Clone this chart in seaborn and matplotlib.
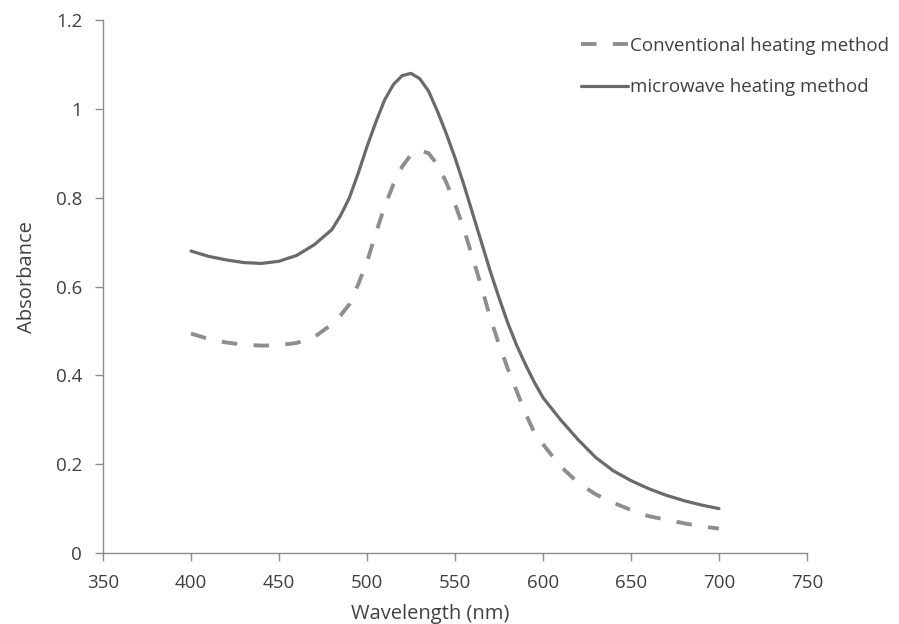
import matplotlib
matplotlib.use("Agg")
import matplotlib.pyplot as plt
import seaborn as sns
import pandas as pd

# wavelength (nm) and absorbance
wavelength = [400, 410, 420, 430, 440, 450, 460, 470, 480, 485, 490, 495, 500, 505,
              510, 515, 520, 525, 530, 535, 540, 545, 550, 555, 560, 565, 570, 575,
              580, 585, 590, 595, 600, 610, 620, 630, 640, 650, 660, 670, 680, 690, 700]
conventional = [0.494, 0.482, 0.474, 0.469, 0.467, 0.468, 0.473, 0.486, 0.515, 0.535,
                0.560, 0.605, 0.655, 0.720, 0.780, 0.830, 0.870, 0.897, 0.907, 0.900,
                0.875, 0.835, 0.786, 0.730, 0.665, 0.600, 0.530, 0.470, 0.415, 0.365,
                0.315, 0.272, 0.245, 0.195, 0.158, 0.132, 0.113, 0.097, 0.083, 0.075,
                0.067, 0.060, 0.055]
microwave = [0.680, 0.668, 0.660, 0.654, 0.652, 0.657, 0.670, 0.694, 0.728, 0.760,
             0.800, 0.855, 0.915, 0.970, 1.020, 1.055, 1.075, 1.080, 1.068, 1.040,
             0.995, 0.945, 0.890, 0.830, 0.765, 0.700, 0.635, 0.575, 0.518, 0.468,
             0.425, 0.385, 0.350, 0.300, 0.255, 0.215, 0.185, 0.163, 0.145, 0.130,
             0.118, 0.108, 0.100]

df = pd.DataFrame({"Wavelength": wavelength,
                   "Conventional heating method": conventional,
                   "microwave heating method": microwave})

sns.set_style("white")
plt.rcParams['font.family'] = ['Open Sans', 'DejaVu Sans']

fig = plt.figure(figsize=(8.99, 6.24), dpi=100)
ax = fig.add_axes([0.1146, 0.1138, 0.783, 0.854])

sns.lineplot(data=df, x="Wavelength", y="Conventional heating method", ax=ax,
             color="#8e8e8e", linewidth=2.8, linestyle=(0, (4, 4.2)),
             label="Conventional heating method")
sns.lineplot(data=df, x="Wavelength", y="microwave heating method", ax=ax,
             color="#6a6a6a", linewidth=2.3, label="microwave heating method")

ax.set_xlim(350, 750)
ax.set_ylim(0, 1.2)
ax.set_xticks([350, 400, 450, 500, 550, 600, 650, 700, 750])
ax.set_yticks([0, 0.2, 0.4, 0.6, 0.8, 1.0, 1.2])
ax.set_yticklabels(["0", "0.2", "0.4", "0.6", "0.8", "1", "1.2"])
ax.tick_params(axis="both", labelsize=13.5, labelcolor="#404040", color="#8c8c8c",
               length=6, direction="out", width=1, bottom=True, left=True)
ax.tick_params(axis="x", pad=9)
ax.tick_params(axis="y", pad=9)
for s in ["top", "right"]:
    ax.spines[s].set_visible(False)
for s in ["left", "bottom"]:
    ax.spines[s].set_color("#8c8c8c")
    ax.spines[s].set_linewidth(1)

ax.set_xlabel("Wavelength (nm)", fontsize=14.5, color="#404040")
ax.set_ylabel("Absorbance", fontsize=14.5, color="#404040")
ax.xaxis.set_label_coords(0.465, -0.095)
ax.yaxis.set_label_coords(-0.094, 0.518)

ax.get_legend().remove()
handles, labels = ax.get_legend_handles_labels()
fig.legend(handles, labels, loc="upper left", bbox_to_anchor=(0.628, 0.968),
           frameon=False, fontsize=13.5, handlelength=2.5, handletextpad=0.1,
           labelspacing=1.24, labelcolor="#404040")

fig.savefig("out.png", dpi=100)
